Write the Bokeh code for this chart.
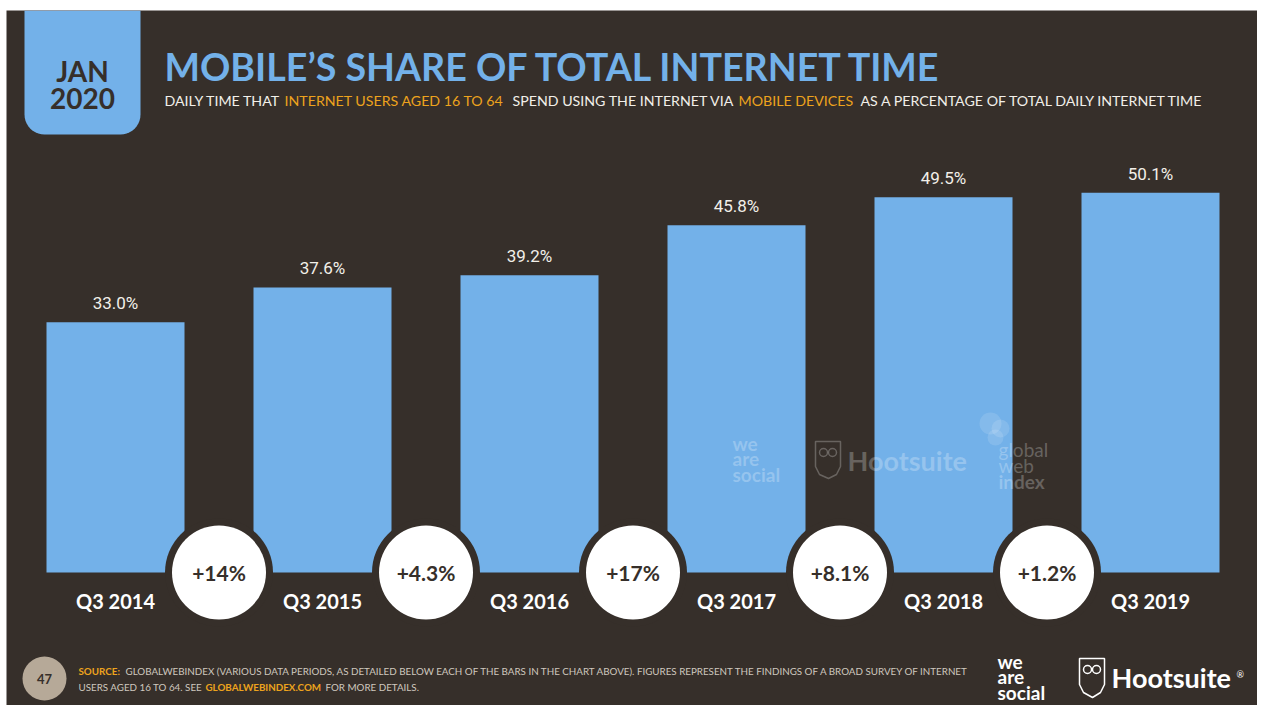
import math
from bokeh.plotting import figure
from bokeh.models import Range1d, ColumnDataSource
from bokeh.core.properties import value
from bokeh.embed import file_html
from bokeh.resources import INLINE

# ---------------- data ----------------
categories = ["Q3 2014", "Q3 2015", "Q3 2016", "Q3 2017", "Q3 2018", "Q3 2019"]
shares = [33.0, 37.6, 39.2, 45.8, 49.5, 50.1]
share_labels = ["33.0%", "37.6%", "39.2%", "45.8%", "49.5%", "50.1%"]
changes = ["+14%", "+4.3%", "+17%", "+8.1%", "+1.2%"]

# ---------------- styles ----------------
BG = "#362f2a"
BLUE = "#73b1e9"
ORANGE = "#eda31d"
WHITE = "#ffffff"
TXT = "#f2efe9"
FOOT = "#cfc8bf"

W, H = 1257, 705
LEFT_PAD, TOP_PAD = 6, 10
PX_PER_UNIT = 7.58
BASE_PAGE_Y = 572.0   # page pixel row of value 0
TOP = (BASE_PAGE_Y - TOP_PAD) / PX_PER_UNIT
BOTTOM = (BASE_PAGE_Y - H) / PX_PER_UNIT


def Y(page_y):
    """convert a page pixel row to data units"""
    return (BASE_PAGE_Y - page_y) / PX_PER_UNIT


p = figure(width=W, height=H, output_backend="svg", toolbar_location=None,
           x_range=Range1d(LEFT_PAD, W), y_range=Range1d(BOTTOM, TOP),
           min_border_left=LEFT_PAD, min_border_top=TOP_PAD,
           min_border_right=0, min_border_bottom=0,
           background_fill_color=BG, border_fill_color=WHITE,
           outline_line_color=None)
p.axis.visible = False
p.grid.visible = False

# ---------------- bars ----------------
first_center = 115.0
step = 207.0
bar_w = 138.0
xs = [first_center + i * step for i in range(len(categories))]
src = ColumnDataSource(dict(x=xs, top=shares, lab=share_labels, cat=categories))
p.vbar(x="x", top="top", bottom=0, width=bar_w, source=src,
       fill_color=BLUE, line_color=None)

p.text(x="x", y="top", text="lab", source=src, x_offset=0, y_offset=-19,
       text_align="center", text_baseline="middle", text_color=TXT,
       text_font=value("Roboto"), text_font_size="17px")

p.text(x="x", y=Y(600), text="cat", source=src, text_align="center",
       text_baseline="middle", text_color=WHITE, text_font=value("Lato"),
       text_font_style="bold", text_font_size="20px")

# ---------------- watermark ----------------
wm_alpha = 0.25
for t, yy in zip(["we", "are", "social"], [443, 458, 474]):
    p.text(x=[732], y=[Y(yy)], text=[t], text_align="left", text_baseline="middle",
           text_color=WHITE, text_alpha=wm_alpha, text_font=value("Lato"),
           text_font_style="bold", text_font_size="19px")
p.text(x=[847], y=[Y(460)], text=["Hootsuite"], text_align="left", text_baseline="middle",
       text_color=WHITE, text_alpha=wm_alpha, text_font=value("Lato"),
       text_font_style="bold", text_font_size="27px")
owl_x = [815, 840, 840, 836, 828, 819, 815, 815]
owl_y = [441, 441, 466, 474, 478, 474, 466, 441]
p.patch(x=owl_x, y=[Y(v) for v in owl_y], fill_color=None, line_color=WHITE,
        line_alpha=wm_alpha, line_width=1.5)
p.scatter(x=[823, 832], y=[Y(452), Y(452)], size=8, marker="circle",
          fill_color=None, line_color=WHITE, line_alpha=wm_alpha, line_width=1.5)
for t, yy, st in zip(["global", "web", "index"], [449, 465, 481], ["normal", "normal", "bold"]):
    p.text(x=[998], y=[Y(yy)], text=[t], text_align="left", text_baseline="middle",
           text_color=WHITE, text_alpha=wm_alpha, text_font=value("Lato"),
           text_font_style=st, text_font_size="19px")
p.scatter(x=[990, 1000, 995], y=[Y(423), Y(428), Y(437)], size=[22, 18, 16],
          marker="circle", fill_color=WHITE, fill_alpha=0.12, line_color=None)

# ---------------- change circles ----------------
cx = [(xs[i] + xs[i + 1]) / 2 for i in range(len(changes))]
csrc = ColumnDataSource(dict(x=cx, y=[0.0] * len(cx), lab=changes))
p.circle(x="x", y="y", radius=54, source=csrc, fill_color=BG, line_color=None)
p.circle(x="x", y="y", radius=47, source=csrc, fill_color=WHITE, line_color=None)
p.text(x="x", y="y", text="lab", source=csrc, text_align="center",
       text_baseline="middle", text_color=BG, text_font=value("Lato"),
       text_font_style="bold", text_font_size="21px")

# ---------------- header ----------------
r = 20
bx0, bx1, by0, by1 = 24, 140, TOP_PAD, 134
pts_x, pts_y = [bx0, bx1], [by0, by0]
for k in range(0, 11):
    a = math.pi / 2 * k / 10
    pts_x.append(bx1 - r + r * math.cos(a))
    pts_y.append(by1 - r + r * math.sin(a))
for k in range(0, 11):
    a = math.pi / 2 + math.pi / 2 * k / 10
    pts_x.append(bx0 + r + r * math.cos(a))
    pts_y.append(by1 - r + r * math.sin(a))
p.patch(x=pts_x, y=[Y(v) for v in pts_y], fill_color=BLUE, line_color=None)
p.text(x=[82, 82], y=[Y(70), Y(98)], text=["JAN", "2020"], text_align="center",
       text_baseline="middle", text_color=BG, text_font=value("Lato"),
       text_font_style="bold", text_font_size="28px")

p.text(x=[164], y=[Y(66)], text=["MOBILE\u2019S SHARE OF TOTAL INTERNET TIME"],
       text_align="left", text_baseline="middle", text_color=BLUE,
       text_font=value("Lato"), text_font_style="bold", text_font_size="37.6px")

sub_segments = ["DAILY TIME THAT", "INTERNET USERS AGED 16 TO 64",
                "SPEND USING THE INTERNET VIA", "MOBILE DEVICES",
                "AS A PERCENTAGE OF TOTAL DAILY INTERNET TIME"]
sub_x = [164, 284, 512, 738, 860]
sub_col = [TXT, ORANGE, TXT, ORANGE, TXT]
for t, x0, c in zip(sub_segments, sub_x, sub_col):
    p.text(x=[x0], y=[Y(100)], text=[t], text_align="left", text_baseline="middle",
           text_color=c, text_font=value("Lato"), text_font_size="14.2px")

# ---------------- footer ----------------
p.scatter(x=[44], y=[Y(678)], size=44, marker="circle", fill_color="#b6a998",
          line_color=None)
p.text(x=[44], y=[Y(678)], text=["47"], text_align="center", text_baseline="middle",
       text_color=BG, text_font=value("Lato"), text_font_style="bold",
       text_font_size="13px")

foot_parts = [
    ("SOURCE:", 78, 670, ORANGE, "bold"),
    ("GLOBALWEBINDEX (VARIOUS DATA PERIODS, AS DETAILED BELOW EACH OF THE BARS IN THE CHART ABOVE). "
     "FIGURES REPRESENT THE FINDINGS OF A BROAD SURVEY OF INTERNET", 125, 670, FOOT, "normal"),
    ("USERS AGED 16 TO 64. SEE", 78, 686, FOOT, "normal"),
    ("GLOBALWEBINDEX.COM", 205, 686, ORANGE, "bold"),
    ("FOR MORE DETAILS.", 325, 686, FOOT, "normal"),
]
for t, x0, y0, c, st in foot_parts:
    p.text(x=[x0], y=[Y(y0)], text=[t], text_align="left", text_baseline="middle",
           text_color=c, text_font=value("Lato"), text_font_style=st,
           text_font_size="9.8px")

for t, yy in zip(["we", "are", "social"], [661, 676, 692]):
    p.text(x=[997], y=[Y(yy)], text=[t], text_align="left", text_baseline="middle",
           text_color=WHITE, text_font=value("Lato"), text_font_style="bold",
           text_font_size="19px")
owl2_x = [1079, 1104, 1104, 1100, 1092, 1083, 1079, 1079]
owl2_y = [658, 658, 684, 692, 697, 692, 684, 658]
p.patch(x=owl2_x, y=[Y(v) for v in owl2_y], fill_color=None, line_color=WHITE,
        line_width=1.5)
p.scatter(x=[1087, 1096], y=[Y(669), Y(669)], size=8, marker="circle",
          fill_color=None, line_color=WHITE, line_width=1.5)
p.text(x=[1111], y=[Y(677)], text=["Hootsuite"], text_align="left",
       text_baseline="middle", text_color=WHITE, text_font=value("Lato"),
       text_font_style="bold", text_font_size="27px")
p.text(x=[1236], y=[Y(674)], text=["\u00ae"], text_align="left",
       text_baseline="middle", text_color=WHITE, text_font=value("Lato"),
       text_font_size="9px")

open("out.html", "w").write(file_html(p, INLINE))
